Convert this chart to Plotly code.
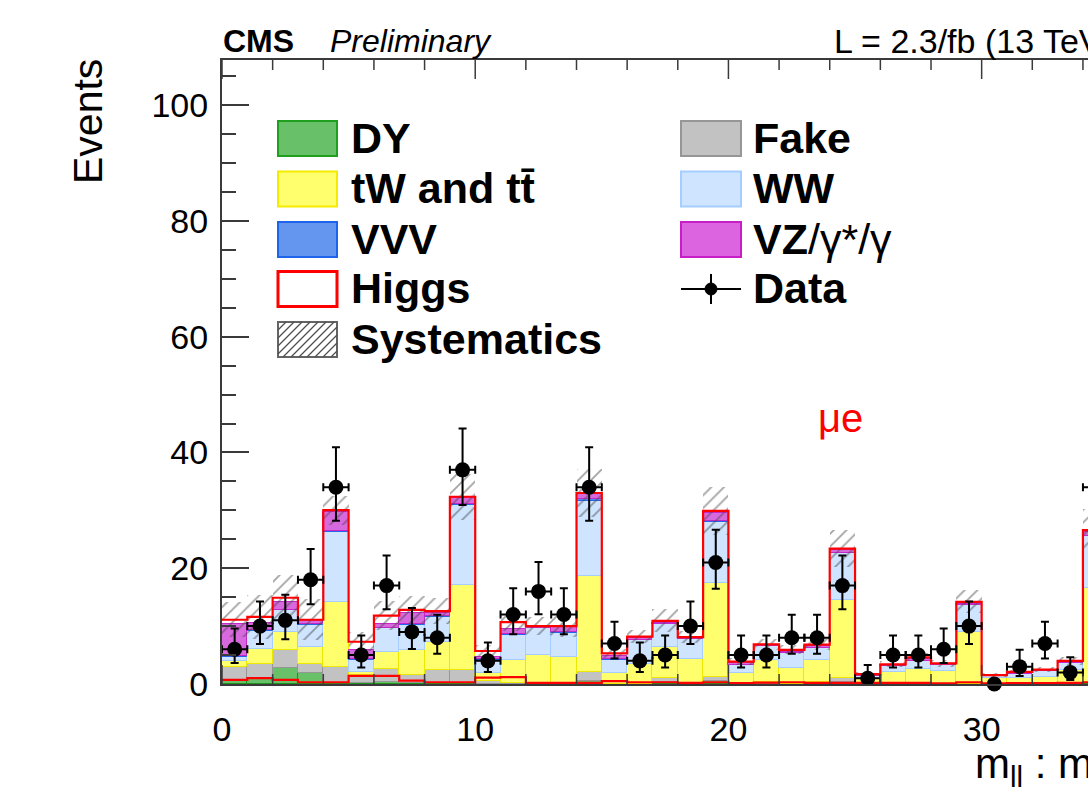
import math
import plotly.graph_objects as go

# ---------------- data ----------------
bin_low = list(range(0, 35))          # bins [i, i+1]
dy    = [0.5,1.0,2.7,1.85,0.2,0.1,0.4,0.2,0.2,0.2, 0.0,0.0,0.0,0.0,0.5,0.0,0.0,0.3,0.0,0.5,
         0.0,0.0,0.0,0.3,0.3,0.0,0.0,0.0,0.0,0.0, 0.0,0.0,0.0,0.1,0.3]
fake  = [2.4,2.4,3.2,1.55,2.7,1.4,2.15,1.4,2.3,2.3, 0.6,0.2,0.0,0.0,1.6,0.0,0.0,0.7,0.0,0.65,
         0.0,0.3,0.0,0.0,0.8,0.0,0.0,0.0,0.0,0.0, 0.0,0.0,0.0,0.0,0.0]
tw    = [1.0,2.6,3.1,3.05,11.2,0.6,3.05,4.3,4.8,14.6, 1.25,4.0,5.0,4.6,16.6,1.9,3.5,5.45,4.4,16.25,
         1.9,3.9,2.7,3.9,13.4,1.1,2.0,2.65,2.25,8.9, 1.1,1.1,1.2,2.4,16.2]
ww    = [0.8,3.2,3.7,3.75,12.2,2.1,4.0,4.3,4.3,13.8, 2.35,4.3,4.6,4.2,13.0,2.3,4.1,3.95,3.3,10.6,
         1.4,2.3,2.6,2.0,8.1,0.3,1.1,1.35,1.05,4.7, 0.3,0.7,1.0,1.1,9.0]
vvv   = [0.1,0.1,0.1,0.1,0.2,0.1,0.1,0.1,0.1,0.2, 0.05,0.1,0.1,0.1,0.2,0.05,0.05,0.05,0.05,0.2,
         0.05,0.05,0.05,0.05,0.1,0.0,0.0,0.05,0.0,0.1, 0.0,0.0,0.0,0.0,0.1]
vz    = [5.6,1.3,1.4,0.5,3.25,1.6,0.7,1.9,0.6,0.95, 0.35,0.9,0.1,0.9,0.9,0.55,0.25,0.15,0.15,1.4,
         0.35,0.05,0.25,0.35,0.5,0.1,0.1,0.35,0.15,0.2, 0.05,0.15,0.15,0.2,0.7]
higgs = [0.7,1.0,0.7,0.3,0.3,1.4,1.4,0.6,0.3,0.3, 1.1,1.2,0.2,0.2,0.2,0.5,0.3,0.3,0.2,0.3,
         0.15,0.25,0.3,0.2,0.2,0.2,0.2,0.2,0.12,0.3, 0.1,0.15,0.15,0.2,0.3]
syst  = [3.0,3.8,3.9,3.5,2.5,1.6,2.5,2.4,2.3,4.0, 1.0,1.5,1.5,1.8,4.2,0.8,1.2,2.0,1.0,4.2,
         0.6,1.0,0.8,1.0,3.2,0.3,0.5,0.7,0.6,2.0, 0.3,0.4,0.4,0.7,3.7]
data  = [6,10,11,18,34,5,17,9,8,37, 4,12,16,12,34,7,4,5,10,21,
         5,5,8,8,17,1,5,5,6,10, 0,3,7,2,34]

x_tickvals = [0, 10, 20, 30]
x_minorvals = [2, 4, 6, 8, 12, 14, 16, 18, 22, 24, 26, 28, 32, 34]
y_tickvals = [0, 20, 40, 60, 80, 100]

legend_col1 = ["<b>DY</b>", "<b>tW and tt\u0304</b>", "<b>VVV</b>", "<b>Higgs</b>", "<b>Systematics</b>"]
legend_col2 = ["<b>Fake</b>", "<b>WW</b>", "<b>VZ</b>/\u03b3*/\u03b3", "<b>Data</b>"]

# ---------------- styles ----------------
FONT = "Liberation Sans, Arial, Helvetica, sans-serif"
components = [
    ("DY", dy, "rgb(104,192,104)", "rgb(30,150,30)"),
    ("Fake", fake, "rgb(194,194,194)", "rgb(150,150,150)"),
    ("tW and tt", tw, "rgb(255,255,110)", "rgb(238,232,0)"),
    ("WW", ww, "rgb(206,228,255)", "rgb(165,205,255)"),
    ("VVV", vvv, "rgb(90,140,240)", "rgb(40,100,230)"),
    ("VZ", vz, "rgb(216,104,222)", "rgb(196,40,200)"),
]

W, H = 1088, 809
ML, MR, MT, MB = 222, 0, 60, 125
PW = W - ML - MR
PH = H - MT - MB
XMAX = 34.2
YMAX = 107.8
AX = "#3a3a3a"


def px(x):
    return (x - ML) / PW


def py(y):
    return (H - MB - y) / PH


def pois_cdf(k, mu):
    if k < 0:
        return 0.0
    s, term = 0.0, math.exp(-mu)
    for i in range(k + 1):
        if i > 0:
            term *= mu / i
        s += term
    return s


def garwood(n, a=0.158655):
    if n == 0:
        return 0.0, 0.0
    lo, hi = float(n), n + 60.0
    for _ in range(80):
        mid = 0.5 * (lo + hi)
        if pois_cdf(n, mid) > a:
            lo = mid
        else:
            hi = mid
    up = 0.5 * (lo + hi) - n
    lo, hi = 0.0, float(n)
    for _ in range(80):
        mid = 0.5 * (lo + hi)
        if 1 - pois_cdf(n - 1, mid) < a:
            lo = mid
        else:
            hi = mid
    down = n - 0.5 * (lo + hi)
    return up, down


centers = [b + 0.5 for b in bin_low]
edges = bin_low + [bin_low[-1] + 1]

fig = go.Figure()

base = [0.0] * len(bin_low)
for name, vals, col, lcol in components:
    fig.add_trace(go.Bar(x=centers, y=vals, base=list(base), width=1.0,
                         marker=dict(color=col, line=dict(color=lcol, width=1)),
                         showlegend=False, hoverinfo="skip"))
    base = [b + v for b, v in zip(base, vals)]

total = [b + h for b, h in zip(base, higgs)]

# systematics hatch band
fig.add_trace(go.Bar(x=centers, y=[2 * s for s in syst],
                     base=[t - s for t, s in zip(total, syst)], width=1.0,
                     marker=dict(color="rgba(0,0,0,0)", line=dict(width=0),
                                 pattern=dict(shape="/", fgcolor="rgba(70,70,70,1)",
                                              bgcolor="rgba(0,0,0,0)", size=9, solidity=0.2)),
                     showlegend=False, hoverinfo="skip"))

# Higgs stacked outline and Higgs alone
fig.add_trace(go.Scatter(x=edges, y=total + [total[-1]], mode="lines",
                         line=dict(color="red", width=2.2, shape="hv"),
                         showlegend=False, hoverinfo="skip"))
fig.add_trace(go.Scatter(x=edges, y=higgs + [higgs[-1]], mode="lines",
                         line=dict(color="red", width=2.2, shape="hv"),
                         showlegend=False, hoverinfo="skip"))

# data
eu, ed = [], []
for n in data:
    u, d = garwood(n)
    eu.append(u)
    ed.append(d)
ex = [0.5 if n > 0 else 0.0 for n in data]
fig.add_trace(go.Scatter(x=centers, y=data, mode="markers",
                         marker=dict(color="black", size=15, symbol="circle"),
                         error_y=dict(type="data", symmetric=False, array=eu, arrayminus=ed,
                                      color="black", thickness=2, width=4),
                         error_x=dict(type="data", array=ex, color="black", thickness=2, width=4),
                         cliponaxis=False, showlegend=False, hoverinfo="skip"))

fig.update_layout(
    xaxis=dict(range=[0, XMAX], showgrid=False, zeroline=False,
               showline=True, linecolor=AX, linewidth=2, mirror=True,
               ticks="", tickvals=x_tickvals, ticktext=[str(v) for v in x_tickvals],
               tickfont=dict(family=FONT, size=34, color="black"),
               ticklabelstandoff=14, layer="above traces"),
    yaxis=dict(range=[0, YMAX], showgrid=False, zeroline=False,
               showline=True, linecolor=AX, linewidth=2, mirror=False,
               ticks="inside", ticklen=27, tickwidth=1.5, tickcolor=AX,
               tickvals=y_tickvals, ticktext=[str(v) for v in y_tickvals],
               tickfont=dict(family=FONT, size=34, color="black"),
               ticklabelstandoff=5, layer="above traces",
               minor=dict(dtick=5, tick0=0, ticks="inside", ticklen=14, tickwidth=1.5, tickcolor=AX)),
)

shapes = []
# x-axis ticks (bottom and top, pointing inward)
for vals, ln in ((x_tickvals, 19), (x_minorvals, 10)):
    for v in vals:
        shapes.append(dict(type="line", xref="x", yref="paper", x0=v, x1=v, y0=0, y1=ln / PH,
                           line=dict(color=AX, width=1.5), layer="above"))
        shapes.append(dict(type="line", xref="x", yref="paper", x0=v, x1=v, y0=1, y1=1 - ln / PH,
                           line=dict(color=AX, width=1.5), layer="above"))

ann = []
ann.append(dict(xref="paper", yref="paper", x=px(221), y=py(41), xanchor="left", yanchor="middle",
                text="<b>CMS</b>", showarrow=False, font=dict(family=FONT, size=32, color="black")))
ann.append(dict(xref="paper", yref="paper", x=px(328), y=py(41), xanchor="left", yanchor="middle",
                text="<i>Preliminary</i>", showarrow=False, font=dict(family=FONT, size=32, color="black")))
ann.append(dict(xref="paper", yref="paper", x=px(832), y=py(41), xanchor="left", yanchor="middle",
                text="L = 2.3/fb (13 TeV)", showarrow=False, font=dict(family=FONT, size=34, color="black")))
ann.append(dict(xref="paper", yref="paper", x=px(88), y=py(122), xanchor="center", yanchor="middle",
                text="Events", textangle=-90, showarrow=False, font=dict(family=FONT, size=41, color="black")))
ann.append(dict(xref="paper", yref="paper", x=px(973), y=py(766), xanchor="left", yanchor="middle",
                text="m<sub>ll</sub> : m<sub>jj</sub>", showarrow=False,
                font=dict(family=FONT, size=42, color="black")))
ann.append(dict(xref="paper", yref="paper", x=px(816), y=py(418), xanchor="left", yanchor="middle",
                text="\u03bce", showarrow=False, font=dict(family=FONT, size=40, color="red")))

rows = [138.5, 189.0, 239.5, 289.0, 339.5]
c1x0, c1x1, c2x0, c2x1 = 278, 337, 681, 741
sw_h = 35
c1_styles = [("rgb(104,192,104)", "rgb(30,160,30)"),
             ("rgb(255,255,110)", "rgb(245,235,0)"),
             ("rgb(100,150,240)", "rgb(30,100,235)"),
             ("white", "red"),
             ("white", "rgb(100,100,100)")]
c2_styles = [("rgb(194,194,194)", "rgb(150,150,150)"),
             ("rgb(206,228,255)", "rgb(165,205,255)"),
             ("rgb(220,100,224)", "rgb(200,30,200)")]


def rect(x0, x1, yc, fill, line, lw):
    shapes.append(dict(type="rect", xref="paper", yref="paper",
                       x0=px(x0), x1=px(x1), y0=py(yc + sw_h / 2), y1=py(yc - sw_h / 2),
                       fillcolor=fill, line=dict(color=line, width=lw), layer="above"))


for i, (lab, (fc, lc)) in enumerate(zip(legend_col1, c1_styles)):
    yc = rows[i]
    rect(c1x0, c1x1, yc, fc, lc, 3 if lab == "<b>Higgs</b>" else 2)
    ann.append(dict(xref="paper", yref="paper", x=px(349), y=py(yc - 1), xanchor="left", yanchor="middle",
                    text=lab, showarrow=False, font=dict(family=FONT, size=43, color="black")))

# hatch lines for Systematics swatch
yc = rows[4]
y0p, y1p = yc - sw_h / 2, yc + sw_h / 2
hgt = y1p - y0p
a = c1x0 - hgt
while a < c1x1:
    if a < c1x0:
        sx, sy = c1x0, y1p - (c1x0 - a)
    else:
        sx, sy = a, y1p
    if a + hgt > c1x1:
        exx, eyy = c1x1, y1p - (c1x1 - a)
    else:
        exx, eyy = a + hgt, y0p
    if exx > sx:
        shapes.append(dict(type="line", xref="paper", yref="paper", x0=px(sx), y0=py(sy),
                           x1=px(exx), y1=py(eyy), line=dict(color="rgb(80,80,80)", width=1.3),
                           layer="above"))
    a += 8

for i, (lab, (fc, lc)) in enumerate(zip(legend_col2[:3], c2_styles)):
    yc = rows[i]
    rect(c2x0, c2x1, yc, fc, lc, 2)
    ann.append(dict(xref="paper", yref="paper", x=px(751), y=py(yc - 1), xanchor="left", yanchor="middle",
                    text=lab, showarrow=False, font=dict(family=FONT, size=43, color="black")))

# Data legend symbol
yc = rows[3]
shapes.append(dict(type="line", xref="paper", yref="paper", x0=px(c2x0), x1=px(c2x1), y0=py(yc), y1=py(yc),
                   line=dict(color="black", width=2), layer="above"))
shapes.append(dict(type="line", xref="paper", yref="paper", x0=px(711), x1=px(711), y0=py(yc - 15), y1=py(yc + 15),
                   line=dict(color="black", width=2), layer="above"))
shapes.append(dict(type="circle", xref="paper", yref="paper", x0=px(705), x1=px(717), y0=py(yc + 6), y1=py(yc - 6),
                   fillcolor="black", line=dict(color="black", width=1), layer="above"))
ann.append(dict(xref="paper", yref="paper", x=px(751), y=py(yc - 1), xanchor="left", yanchor="middle",
                text=legend_col2[3], showarrow=False, font=dict(family=FONT, size=43, color="black")))

fig.update_layout(width=W, height=H, margin=dict(l=ML, r=MR, t=MT, b=MB, pad=0),
                  paper_bgcolor="white", plot_bgcolor="white", barmode="overlay", bargap=0,
                  showlegend=False, annotations=ann, shapes=shapes,
                  font=dict(family=FONT, color="black"))

fig.write_html("out.html", config={"displayModeBar": False},
               post_script="document.body.style.margin='0';document.body.style.overflow='hidden';")
